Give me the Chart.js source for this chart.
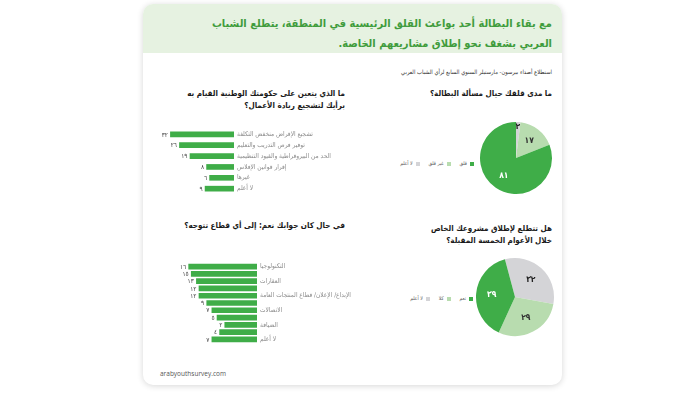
<!DOCTYPE html>
<html lang="ar">
<head>
<meta charset="utf-8">
<script src="https://cdn.jsdelivr.net/npm/chart.js@4/dist/chart.umd.min.js"></script>
<style>
  html, body { margin: 0; padding: 0; background: #fff; }
  body { width: 700px; height: 393px; position: relative; overflow: hidden; font-family: "DejaVu Sans Condensed", "DejaVu Sans", sans-serif; }
  .card { position: absolute; left: 143px; top: 4px; width: 419px; height: 381px; background: #fff;
          border-radius: 10px; box-shadow: 0 1px 6px rgba(0,0,0,0.16); overflow: hidden; }
  .head { position: absolute; left: 0; top: 0; width: 100%; height: 49px; background: #e6f2e1; }
  .txt { position: absolute; direction: rtl; text-align: right; white-space: nowrap; }
  .title { right: 10px; top: 10px; font-size: 11px; font-weight: bold; color: #3f9c3c; line-height: 20px; }
  .sub { right: 10px; top: 65px; font-size: 5.8px; color: #333; }
  .q { font-size: 8px; font-weight: bold; color: #1a1a1a; line-height: 12px; }
  .foot { position: absolute; left: 17px; top: 365px; font-family: "Open Sans", sans-serif; font-size: 6.5px; color: #555; }
  canvas { position: absolute; }
  .legend { position: absolute; display: flex; direction: rtl; gap: 9px; font-size: 5px; color: #555; align-items: center; }
  .legend span.sw { display: inline-block; width: 4px; height: 4px; margin-left: 3px; vertical-align: middle; }
</style>
</head>
<body>
<div class="card">
  <div class="head"></div>
  <div class="txt title">مع بقاء البطالة أحد بواعث القلق الرئيسية في المنطقة، يتطلع الشباب<br>العربي بشغف نحو إطلاق مشاريعهم الخاصة.</div>
  <div class="txt sub">استطلاع أصداء بيرسون- مارستيلر السنوي السابع لرأي الشباب العربي</div>
  <div class="txt q" style="right:10px; top:84px;">ما مدى قلقك حيال مسألة البطالة؟</div>
  <div class="txt q" style="right:217px; top:84px;">ما الذي يتعين على حكومتك الوطنية القيام به<br>برأيك لتشجيع ريادة الأعمال؟</div>
  <div class="txt q" style="right:217px; top:216px;">في حال كان جوابك نعم: إلى أي قطاع تتوجه؟</div>
  <div class="txt q" style="right:10px; top:219px;">هل تتطلع لإطلاق مشروعك الخاص<br>خلال الأعوام الخمسة المقبلة؟</div>
  <div class="foot">arabyouthsurvey.com</div>
</div>
<canvas id="goal_chart" width="220" height="79" style="left:150px; top:122px;"></canvas>
<canvas id="sector_chart" width="230" height="94" style="left:150px; top:256px;"></canvas>
<canvas id="worry_chart" width="80" height="80" style="left:476px; top:118px;"></canvas>
<canvas id="plan_chart" width="80" height="80" style="left:475px; top:257px;"></canvas>
<div class="legend" id="worry_legend" style="right:226px; top:160px;"></div>
<div class="legend" id="plan_legend" style="right:227px; top:295px;"></div>
<script>
// survey answers (percent)
const goalLabels = [
  "تشجيع الإقراض منخفض التكلفة",
  "توفير فرص التدريب والتعليم",
  "الحد من البيروقراطية والقيود التنظيمية",
  "إقرار قوانين الإفلاس",
  "غيرها",
  "لا أعلم",
];
const goalValues = [32, 26, 19, 8, 6, 9];

const sectorLabels = [
  "التكنولوجيا",
  "التجزئة",
  "العقارات",
  "الاستثمار/ الخدمات المالية",
  "الإبداع/ الإعلان/ قطاع المنتجات العامة",
  "الرعاية الصحية",
  "الاتصالات",
  "الصناعة",
  "الضيافة",
  "غيرها",
  "لا أعلم",
];
const sectorValues = [16, 15, 13, 12, 12, 9, 7, 5, 2, 4, 7];

const worryLabels = ["لا أعلم", "غير قلق", "قلق"];
const worryValues = [2, 17, 81];

const planLabels = ["لا أعلم", "كلا", "نعم"];
const planValues = [32, 29, 39];

const GREEN = "#3fad48";
const LIGHT_GREEN = "#b8dcaf";
const GREY = "#d4d4d7";
const FONT = "DejaVu Sans Condensed";

const arDigits = (n) => String(n).replace(/\d/g, (d) => "٠١٢٣٤٥٦٧٨٩"[d]);

// value text at the end of each bar
const barValuePlugin = {
  id: "barValues",
  afterDatasetsDraw(chart) {
    const ctx = chart.ctx;
    const meta = chart.getDatasetMeta(0);
    const vals = chart.data.datasets[0].data;
    ctx.save();
    ctx.font = `6.5px "${FONT}"`;
    ctx.fillStyle = "#444";
    ctx.textAlign = "right";
    ctx.textBaseline = "middle";
    meta.data.forEach((bar, i) => ctx.fillText(arDigits(vals[i]), bar.x - 2.5, bar.y + 0.5));
    ctx.restore();
  },
};

// value text inside pie slices
const pieValuePlugin = {
  id: "pieValues",
  afterDatasetsDraw(chart) {
    const ctx = chart.ctx;
    const meta = chart.getDatasetMeta(0);
    const ds = chart.data.datasets[0];
    const total = ds.data.reduce((a, b) => a + b, 0);
    ctx.save();
    ctx.font = `bold 8.5px "${FONT}"`;
    ctx.textAlign = "center";
    ctx.textBaseline = "middle";
    meta.data.forEach((arc, i) => {
      const mid = (arc.startAngle + arc.endAngle) / 2;
      const f = ds.data[i] / total < 0.05 ? 0.86 : 0.6;
      ctx.fillStyle = ds.labelColors[i];
      ctx.fillText(arDigits(ds.data[i]), arc.x + Math.cos(mid) * arc.outerRadius * f, arc.y + Math.sin(mid) * arc.outerRadius * f);
    });
    ctx.restore();
  },
};

function makeBarChart(id, labels, values, base, max, padLeft, axisWidth) {
  return new Chart(document.getElementById(id), {
    type: "bar",
    data: {
      labels: labels,
      datasets: [{ data: values, backgroundColor: GREEN, borderWidth: 0, barThickness: 5, base: base }],
    },
    options: {
      indexAxis: "y",
      responsive: false,
      animation: false,
      layout: { padding: { left: padLeft, right: 0, top: 0, bottom: 0 } },
      plugins: { legend: { display: false }, tooltip: { enabled: false } },
      scales: {
        x: { type: "linear", reverse: true, min: base, max: max, display: false },
        y: {
          position: "right",
          grid: { display: false, drawTicks: false },
          border: { display: false },
          ticks: { color: "#8c8c8c", font: { family: FONT, size: 6.5 }, padding: 3 },
          afterFit: (s) => { s.width = axisWidth; },
        },
      },
    },
    plugins: [barValuePlugin],
  });
}

function makePie(id, labels, values, rotation, pad) {
  return new Chart(document.getElementById(id), {
    type: "pie",
    data: {
      labels: labels,
      datasets: [{
        data: values,
        backgroundColor: [GREY, LIGHT_GREEN, GREEN],
        labelColors: ["#222", "#333", "#fff"],
        borderWidth: 0,
      }],
    },
    options: {
      responsive: false,
      animation: false,
      rotation: rotation,
      layout: { padding: pad },
      plugins: { legend: { display: false }, tooltip: { enabled: false } },
    },
    plugins: [pieValuePlugin],
  });
}

function buildLegend(elId, chart) {
  const el = document.getElementById(elId);
  const ds = chart.data.datasets[0];
  chart.data.labels.map((l, i) => i).reverse().forEach((i) => {
    const item = document.createElement("div");
    item.innerHTML = `<span class="sw" style="background:${ds.backgroundColor[i]}"></span>${chart.data.labels[i]}`;
    el.appendChild(item);
  });
}

makeBarChart("goal_chart", goalLabels, goalValues, -10.2, 35.6, 15, 136);
makeBarChart("sector_chart", sectorLabels, sectorValues, -10.5, 18.2, 33, 123);
const worryChart = makePie("worry_chart", worryLabels, worryValues, 0, 4);
const planChart = makePie("plan_chart", planLabels, planValues, -15, 1);
buildLegend("worry_legend", worryChart);
buildLegend("plan_legend", planChart);
</script>
</body>
</html>
